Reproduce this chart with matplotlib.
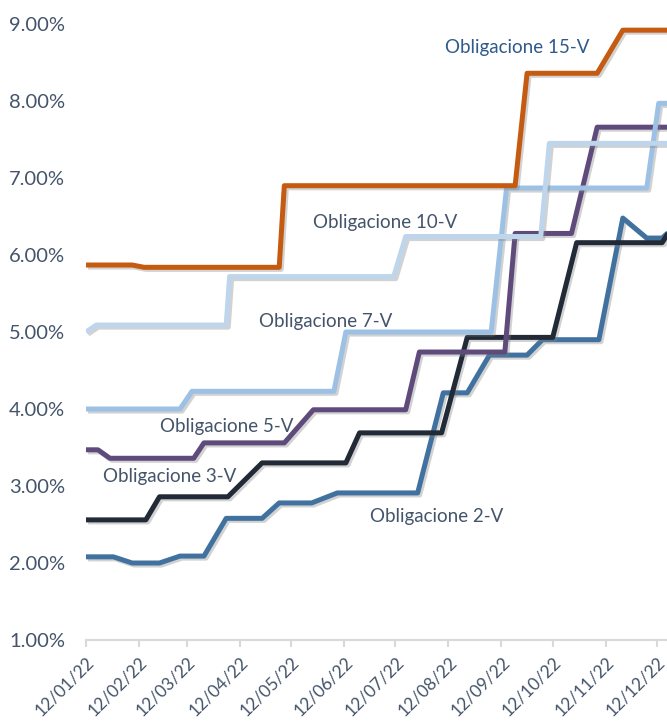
import datetime as dt

import matplotlib
matplotlib.use("Agg")
import matplotlib.dates as mdates
import matplotlib.patheffects as pe
from matplotlib import pyplot as plt
from matplotlib.ticker import FuncFormatter

plt.rcParams['font.family'] = ['Lato', 'DejaVu Sans']

# --- data (yield %) ---
dates_2v = ['2022-01-12', '2022-01-28', '2022-02-08', '2022-02-24', '2022-03-08', '2022-03-22',
            '2022-04-04', '2022-04-25', '2022-05-05', '2022-05-24', '2022-06-08', '2022-07-25',
            '2022-08-09', '2022-08-23', '2022-09-05', '2022-09-27', '2022-10-06', '2022-11-08',
            '2022-11-22', '2022-12-06', '2022-12-15', '2022-12-19']
vals_2v = [2.08, 2.08, 2.00, 2.00, 2.09, 2.09,
           2.58, 2.58, 2.78, 2.78, 2.91, 2.91,
           4.21, 4.21, 4.70, 4.70, 4.90, 4.90,
           6.48, 6.22, 6.22, 6.30]

dates_3v = ['2022-01-12', '2022-02-16', '2022-02-24', '2022-04-05', '2022-04-25', '2022-06-13',
            '2022-06-21', '2022-08-08', '2022-08-23', '2022-10-12', '2022-10-26', '2022-12-15',
            '2022-12-19']
vals_3v = [2.56, 2.56, 2.86, 2.86, 3.30, 3.30,
           3.69, 3.69, 4.93, 4.93, 6.16, 6.16,
           6.30]

dates_5v = ['2022-01-12', '2022-01-19', '2022-01-26', '2022-03-16', '2022-03-22', '2022-05-08',
            '2022-05-25', '2022-07-18', '2022-07-26', '2022-09-14', '2022-09-20', '2022-10-23',
            '2022-11-07', '2022-12-31']
vals_5v = [3.47, 3.47, 3.36, 3.36, 3.56, 3.56,
           3.99, 3.99, 4.74, 4.74, 6.28, 6.28,
           7.66, 7.66]

dates_7v = ['2022-01-12', '2022-03-08', '2022-03-15', '2022-06-06', '2022-06-13', '2022-09-06',
            '2022-09-15', '2022-12-06', '2022-12-13', '2022-12-31']
vals_7v = [4.00, 4.00, 4.23, 4.23, 5.00, 5.00,
           6.87, 6.87, 7.97, 7.97]

dates_10v = ['2022-01-12', '2022-01-18', '2022-04-04', '2022-04-06', '2022-07-11', '2022-07-18',
             '2022-10-05', '2022-10-10', '2022-12-31']
vals_10v = [5.00, 5.09, 5.09, 5.72, 5.72, 6.24,
            6.24, 7.45, 7.45]

dates_15v = ['2022-01-12', '2022-02-08', '2022-02-15', '2022-05-05', '2022-05-08', '2022-09-20',
             '2022-09-27', '2022-11-07', '2022-11-22', '2022-12-31']
vals_15v = [5.87, 5.87, 5.84, 5.84, 6.90, 6.90,
            8.36, 8.36, 8.92, 8.92]

series_names = ['Obligacione 2-V', 'Obligacione 3-V', 'Obligacione 5-V',
                'Obligacione 7-V', 'Obligacione 10-V', 'Obligacione 15-V']
series_dates = [dates_2v, dates_3v, dates_5v, dates_7v, dates_10v, dates_15v]
series_vals = [vals_2v, vals_3v, vals_5v, vals_7v, vals_10v, vals_15v]
colors = ['#41729F', '#212A36', '#5F4A7C', '#9CC1E5', '#BED5EC', '#C55A11']

# label anchors (date, value) for the series names
label_pos = {
    'Obligacione 2-V': ('2022-06-27', 2.61),
    'Obligacione 3-V': ('2022-01-22', 3.12),
    'Obligacione 5-V': ('2022-02-24', 3.77),
    'Obligacione 7-V': ('2022-04-23', 5.13),
    'Obligacione 10-V': ('2022-05-25', 6.42),
    'Obligacione 15-V': ('2022-08-10', 8.69),
}

tick_dates = ['2022-%02d-12' % m for m in range(1, 13)]


def to_dt(s):
    return dt.datetime.strptime(s, '%Y-%m-%d')


fig = plt.figure(figsize=(6.67, 7.24), dpi=100)
ax = fig.add_axes([86 / 667, 1 - 640 / 724, 1 - 86 / 667, (640 - 24) / 724])

txt_col = '#44546A'
shadow = [pe.SimpleLineShadow(offset=(1.5, -1.5), shadow_color='#808080', alpha=0.35), pe.Normal()]

for i, (name, d, v, c) in enumerate(zip(series_names, series_dates, series_vals, colors)):
    ax.plot([to_dt(s) for s in d], v, color=c, linewidth=3.6, zorder=2 + i,
            solid_joinstyle='round', solid_capstyle='butt', path_effects=shadow)
    lx, ly = label_pos[name]
    tc = '#2F5A8C' if name.endswith('15-V') else txt_col
    ax.text(to_dt(lx), ly, name, color=tc, fontsize=13.5, ha='left', va='center', zorder=10)

x0 = mdates.date2num(to_dt('2022-01-12'))
ax.set_xlim(x0, x0 + 339.85)
ax.set_ylim(1, 9)

ax.set_yticks([1, 2, 3, 4, 5, 6, 7, 8, 9])
ax.yaxis.set_major_formatter(FuncFormatter(lambda y, _: '%.2f%%' % y))
ax.set_xticks([to_dt(s) for s in tick_dates])
ax.xaxis.set_major_formatter(mdates.DateFormatter('%d/%m/%y'))

for lab in ax.get_xticklabels():
    lab.set_rotation(45)
    lab.set_ha('right')
    lab.set_va('top')
    lab.set_rotation_mode('anchor')

ax.tick_params(axis='y', length=0, labelsize=14.5, labelcolor=txt_col, pad=15)
ax.tick_params(axis='x', length=5, width=1.5, color='#D9D9D9', labelsize=12.5,
               labelcolor=txt_col, pad=5)

for side in ['top', 'right', 'left']:
    ax.spines[side].set_visible(False)
ax.spines['bottom'].set_color('#D9D9D9')
ax.spines['bottom'].set_linewidth(1.5)

plt.savefig('out.png', dpi=100)
